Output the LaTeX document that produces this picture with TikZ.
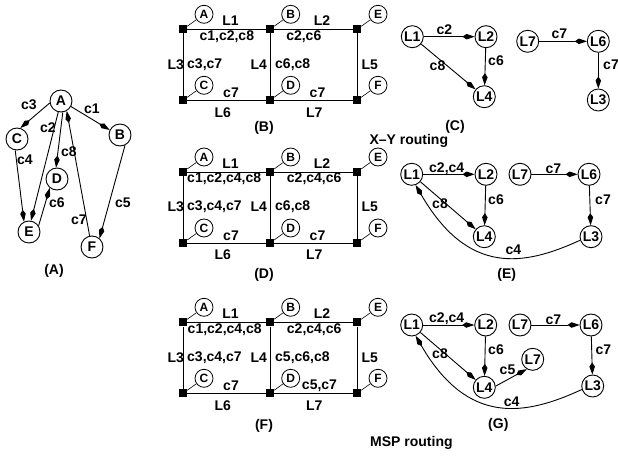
\documentclass[tikz,border=0pt]{standalone}
\usepackage{fontspec}
\setmainfont{Liberation Sans}
\usetikzlibrary{arrows.meta,calc}

\newcommand\lblfont{\fontsize{14}{16}\selectfont\bfseries}
\newcommand\tagfont{\fontsize{12}{13}\selectfont\bfseries}

\tikzset{
  vtx/.style={circle,draw,line width=0.9pt,minimum size=22pt,inner sep=0.5pt,font=\lblfont},
  tagc/.style={circle,draw,line width=0.8pt,minimum size=18pt,inner sep=0pt,font=\tagfont},
  sq/.style={rectangle,fill=black,minimum size=8pt,inner sep=0pt},
  lbl/.style={inner sep=0pt,font=\lblfont},
  arr/.style={-{Kite[length=12pt,width=5.5pt,inset=4pt]},line width=0.9pt},
  ln/.style={line width=0.9pt},
  tagln/.style={line width=0.6pt}
}

\begin{document}
\begin{tikzpicture}[x=1pt,y=1pt]
\useasboundingbox (0,0) rectangle (618,456);

% ---------- (A): connection graph ----------
\node[vtx] (A) at (61,355) {A};
\node[vtx] (C) at (17,317) {C};
\node[vtx] (B) at (120,321) {B};
\node[vtx] (D) at (57,277) {D};
\node[vtx] (E) at (29,224) {E};
\node[vtx] (F) at (92,209) {F};
\draw[arr] (A.190) -- (C.73);
\draw[arr] (A.-29) -- (B.154);
\draw[arr] (A.-104) -- (E.80);
\draw[arr] (A.-81) -- (D.95);
\draw[arr] (C.-99) -- (E.116);
\draw[arr] (E.33) -- (D.231);
\draw[arr] (F.102) -- (A.-60);
\draw[arr] (B.-64) -- (F.49);
\node[lbl] (a-c3) at (29,351) {c3};
\node[lbl] (a-c1) at (92,347) {c1};
\node[lbl] (a-c2) at (48,328) {c2};
\node[lbl] (a-c8) at (69,304) {c8};
\node[lbl] (a-c4) at (25,296) {c4};
\node[lbl] (a-c6) at (57,253) {c6};
\node[lbl] (a-c7) at (79,236) {c7};
\node[lbl] (a-c5) at (123,253) {c5};
\node[lbl] (a-cap) at (54,185) {(A)};

% ---------- (B), (D), (F): mesh with link loads ----------
\foreach \gp/\gy/\gta/\gtax/\gtb/\gtbx/\gma/\gmb/\gbc/\gbcx/\gcap/\gcapd in {
  B/426.7/{c1,c2,c8}/226.8/{c2,c6}/303.8/{c3,c7}/{c6,c8}/c7/317.5/(B)/99,
  D/284/{c1,c2,c4,c8}/224.2/{c2,c4,c6}/314.2/{c3,c4,c7}/{c6,c8}/c7/317.5/(D)/103,
  F/133.7/{c1,c2,c4,c8}/224.7/{c2,c4,c6}/314.2/{c3,c4,c7}/{c5,c6,c8}/{c5,c7}/319.5/(F)/103.4}
{
  \begin{scope}[shift={(0,\gy)}]
    \node[sq] (\gp-s1) at (183,0) {};
    \node[sq] (\gp-s2) at (270,0) {};
    \node[sq] (\gp-s3) at (357,0) {};
    \node[sq] (\gp-s4) at (183,-71) {};
    \node[sq] (\gp-s5) at (270,-71) {};
    \node[sq] (\gp-s6) at (357,-71) {};
    \draw[ln] (\gp-s1) -- (\gp-s2) -- (\gp-s3) -- (\gp-s6) -- (\gp-s5) -- (\gp-s4) -- (\gp-s1);
    \draw[ln] (\gp-s2) -- (\gp-s5);
    \node[tagc] (\gp-tA) at (204,15) {A};
    \node[tagc] (\gp-tB) at (290.7,15) {B};
    \node[tagc] (\gp-tE) at (378,15) {E};
    \node[tagc] (\gp-tC) at (204,-56) {C};
    \node[tagc] (\gp-tD) at (290.7,-56) {D};
    \node[tagc] (\gp-tF) at (378,-56) {F};
    \draw[tagln] (\gp-s1) -- (\gp-tA);
    \draw[tagln] (\gp-s2) -- (\gp-tB);
    \draw[tagln] (\gp-s3) -- (\gp-tE);
    \draw[tagln] (\gp-s4) -- (\gp-tC);
    \draw[tagln] (\gp-s5) -- (\gp-tD);
    \draw[tagln] (\gp-s6) -- (\gp-tF);
    \node[lbl] (\gp-L1) at (230.5,8.5) {L1};
    \node[lbl] (\gp-L2) at (322,8.5) {L2};
    \node[lbl] (\gp-ta) at (\gtax,-7) {\gta};
    \node[lbl] (\gp-tb) at (\gtbx,-7) {\gtb};
    \node[lbl] (\gp-L3) at (175.8,-35) {L3};
    \node[lbl,anchor=west] (\gp-ma) at (187,-35) {\gma};
    \node[lbl] (\gp-L4) at (258.8,-35) {L4};
    \node[lbl,anchor=west] (\gp-mb) at (275,-35) {\gmb};
    \node[lbl] (\gp-L5) at (369.8,-35) {L5};
    \node[lbl] (\gp-ba) at (231,-63.5) {c7};
    \node[lbl] (\gp-bb) at (\gbcx,-63.5) {\gbc};
    \node[lbl] (\gp-L6) at (222.8,-83) {L6};
    \node[lbl] (\gp-L7) at (314.2,-83) {L7};
    \node[lbl] (\gp-cap) at (264,-\gcapd) {\gcap};
  \end{scope}
}

% ---------- (C): link graph, X-Y routing ----------
\node[vtx] (C-L1) at (412.3,419.3) {L1};
\node[vtx] (C-L2) at (486,419.3) {L2};
\node[vtx] (C-L4) at (484.3,359.3) {L4};
\node[vtx] (C-L7) at (527.7,414.7) {L7};
\node[vtx] (C-L6) at (598.3,414.7) {L6};
\node[vtx] (C-L3) at (598.3,356) {L3};
\draw[arr] (C-L1) -- (C-L2);
\draw[arr] (C-L1) -- (C-L4);
\draw[arr] (C-L2) -- (C-L4);
\draw[arr] (C-L7) -- (C-L6);
\draw[arr] (C-L6) -- (C-L3);
\node[lbl] (C-c2) at (444.3,426) {c2};
\node[lbl] (C-c8) at (437.5,390) {c8};
\node[lbl] (C-c6) at (496,395) {c6};
\node[lbl] (C-c7a) at (559.3,422.3) {c7};
\node[lbl] (C-c7b) at (611,391.7) {c7};
\node[lbl] (C-cap) at (455,329) {(C)};
\node[lbl,anchor=base west] (xy) at (369.3,311) {X--Y routing};

% ---------- (E): link graph ----------
\node[vtx] (E-L1) at (411.7,281.7) {L1};
\node[vtx] (E-L2) at (486,281.7) {L2};
\node[vtx] (E-L7) at (520,281.7) {L7};
\node[vtx] (E-L6) at (589,281.7) {L6};
\node[vtx] (E-L4) at (484.3,219.3) {L4};
\node[vtx] (E-L3) at (591,219.3) {L3};
\draw[arr] (E-L1) -- (E-L2);
\draw[arr] (E-L1) -- (E-L4);
\draw[arr] (E-L2) -- (E-L4);
\draw[arr] (E-L7) -- (E-L6);
\draw[arr] (E-L6) -- (E-L3);
\draw[arr] (E-L3.198) .. controls ($(E-L3)+(-67.7,-29.7)$) and ($(E-L1)+(56.3,-101)$) .. (E-L1.-70);
\node[lbl] (E-c24) at (446.7,287.7) {c2,c4};
\node[lbl] (E-c8) at (440,252) {c8};
\node[lbl] (E-c6) at (496,256) {c6};
\node[lbl] (E-c7a) at (553.3,287.7) {c7};
\node[lbl] (E-c7b) at (603,256) {c7};
\node[lbl] (E-c4) at (513.3,206) {c4};
\node[lbl] (E-cap) at (506.7,181) {(E)};

% ---------- (G): link graph, MSP routing ----------
\node[vtx] (G-L1) at (411.7,131) {L1};
\node[vtx] (G-L2) at (485.7,131) {L2};
\node[vtx] (G-L7) at (520,131) {L7};
\node[vtx] (G-L6) at (591,131) {L6};
\node[vtx] (G-L4) at (484.3,68.7) {L4};
\node[vtx] (G-L7b) at (532.7,96.7) {L7};
\node[vtx] (G-L3) at (592.7,70) {L3};
\draw[arr] (G-L1) -- (G-L2);
\draw[arr] (G-L1) -- (G-L4);
\draw[arr] (G-L2) -- (G-L4);
\draw[arr] (G-L7) -- (G-L6);
\draw[arr] (G-L6) -- (G-L3);
\draw[arr] (G-L4.6) -- (G-L7b.239);
\draw[arr] (G-L3.198) .. controls ($(G-L3)+(-67.7,-29.7)$) and ($(G-L1)+(56.3,-101)$) .. (G-L1.-70);
\node[lbl] (G-c24) at (446.7,137.7) {c2,c4};
\node[lbl] (G-c8) at (440,102) {c8};
\node[lbl] (G-c6) at (496,106.7) {c6};
\node[lbl] (G-c5) at (507.5,86.5) {c5};
\node[lbl] (G-c7a) at (553.3,136.7) {c7};
\node[lbl] (G-c7b) at (603.3,106.7) {c7};
\node[lbl] (G-c4) at (511.7,54.3) {c4};
\node[lbl] (G-cap) at (498.3,31) {(G)};
\node[lbl,anchor=base west] (msp) at (370,9.3) {MSP routing};
\end{tikzpicture}
\end{document}
